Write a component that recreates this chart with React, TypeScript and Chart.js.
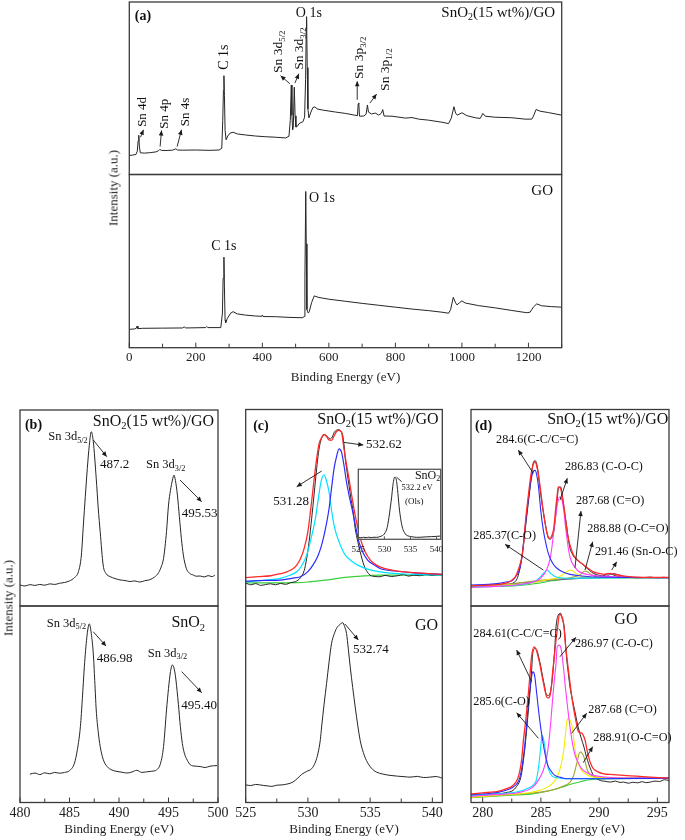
import React, { useEffect, useRef } from "react";
import { Chart, registerables } from "chart.js";

Chart.register(...registerables);

const SERIF = "'Liberation Serif', 'Times New Roman', serif";
type P = [number, number];

// ---------------- tick labels ----------------
const surveyMajor = [0, 200, 400, 600, 800, 1000, 1200];
const surveyMinor = [100, 300, 500, 700, 900, 1100, 1300];
const snMajor = [480, 485, 490, 495, 500];
const snMinor = [482.5, 487.5, 492.5, 497.5];
const oMajor = [525, 530, 535, 540];
const oMinor = [527.5, 532.5, 537.5];
const cMajor = [280, 285, 290, 295];
const cMinor = [282.5, 287.5, 292.5];

// ---------------- (a) survey spectra ----------------
const surveySnO2GO: P[] = [
  [0, 11.0], [10, 11.3], [20, 11.6], [24, 13.5], [26.5, 19.5], [28.5, 22.7], [30.5, 16], [33, 12.6], [45, 12.4], [60, 12.6],
  [80, 13.1], [88, 13.8], [92, 14.6], [96, 14.0], [110, 13.9], [130, 14.1], [140, 14.9], [145, 14.2], [160, 14.1], [200, 14.2],
  [240, 14.0], [270, 14.2], [278, 15.2], [281, 31.4], [283, 48.8], [284.5, 57.3], [286, 45.9], [288, 25.6], [291, 20.1], [296, 22.3],
  [303, 24.0], [312, 24.5], [325, 23.5], [350, 22.9], [380, 22.3], [410, 21.9], [440, 21.6], [470, 21.2], [480, 22.2], [484, 31.4],
  [487, 51.9], [489, 34.3], [491, 25.8], [493, 27.3], [496, 50.6], [498.5, 34], [501, 27.5], [505, 27.9], [510, 29.4], [516, 30.1],
  [522, 30.6], [527, 33.2], [530, 55], [532, 84], [533, 91.5], [535, 62], [537, 38], [540, 32.8], [546, 36.2], [552, 38.8],
  [558, 39.2], [565, 38.0], [580, 37.4], [600, 36.8], [620, 36.2], [650, 35.4], [675, 34.5], [686, 34.1], [688, 40.8], [690, 41.5],
  [692, 33.8], [705, 33.9], [712, 35.0], [716, 40.3], [719, 36.2], [728, 35.1], [740, 35.6], [750, 34.4], [758, 35.6], [762, 37.6],
  [766, 33.9], [790, 33.8], [830, 32.7], [850, 33.0], [870, 32.1], [900, 31.5], [940, 30.3], [960, 29.5], [968, 32.7], [976, 39.3],
  [981, 35.6], [986, 34.4], [1000, 35.8], [1015, 34.1], [1040, 32.9], [1055, 32.5], [1063, 35.4], [1070, 33.8], [1100, 33.2], [1150, 32.9],
  [1190, 32.1], [1210, 32.1], [1215, 33.8], [1223, 37.7], [1235, 36.7], [1260, 35.9], [1300, 34.4],
];
const surveyGO: P[] = [
  [0, 10.6], [15, 10.8], [21, 11.2], [23.5, 12.5], [26, 11.0], [40, 11.2], [100, 11.3], [160, 11.4], [165, 12.0], [170, 11.4],
  [230, 11.6], [233, 12.2], [236, 11.6], [275, 11.6], [280, 20], [282, 40], [284.5, 52.3], [286, 35], [288, 16], [290, 14.5],
  [295, 17], [305, 20], [312, 20.8], [325, 19.5], [350, 18.8], [380, 18.3], [398, 18.1], [400, 18.9], [402, 18.0], [440, 17.9],
  [480, 17.5], [520, 17.3], [526, 18], [528, 40], [530.5, 90.2], [532, 60], [534, 22], [538, 20], [541, 20.8], [548, 26],
  [556, 29.9], [570, 29], [600, 28], [650, 26.8], [700, 25.6], [750, 24.5], [800, 23.4], [850, 22.3], [900, 21.4], [940, 20.5],
  [960, 19.9], [966, 22], [974, 29.1], [980, 26.3], [985, 24.7], [993, 26], [1000, 27], [1010, 25.8], [1050, 24.3], [1100, 23],
  [1150, 21.5], [1195, 20.2], [1205, 20.5], [1215, 23.5], [1225, 25.3], [1240, 24.2], [1270, 23.7], [1300, 23.4],
];

// ---------------- (b) Sn 3d ----------------
const sn3dSnO2GO: P[] = [
  [480.0, 10.7], [480.5, 10.2], [481.0, 10.9], [481.5, 10.5], [482.0, 11.0], [482.5, 10.6], [483.0, 11.3], [483.5, 11.0], [484.0, 11.6], [484.5, 12.0],
  [485.0, 12.8], [485.5, 14.5], [485.9, 17.5], [486.2, 26], [486.4, 41.3], [486.6, 56], [486.8, 70.2], [487.0, 82], [487.2, 88.9], [487.4, 84],
  [487.7, 65.1], [487.9, 50], [488.1, 37.9], [488.4, 20.9], [488.7, 16.5], [489.1, 15.0], [489.6, 14.0], [490.1, 13.3], [490.6, 13.0], [491.1, 12.5],
  [491.6, 12.8], [492.1, 12.2], [492.6, 12.9], [493.1, 13.4], [493.6, 14.8], [494.0, 17.0], [494.3, 20.5], [494.5, 24.3], [494.8, 38], [495.0, 51.5],
  [495.2, 59], [495.4, 64.3], [495.55, 66.8], [495.7, 64], [495.9, 56.6], [496.1, 45.5], [496.3, 34.5], [496.5, 26], [496.8, 19.2], [497.1, 16.8],
  [497.5, 15.8], [497.8, 15.2], [498.2, 15.3], [498.6, 14.8], [499.0, 15.5], [499.4, 15.0], [499.7, 15.8],
];
const sn3dSnO2: P[] = [
  [481.0, 14.4], [481.5, 15.0], [482.0, 14.2], [482.5, 15.1], [483.0, 14.6], [483.5, 15.3], [484.0, 14.9], [484.5, 15.3], [485.0, 16.2], [485.5, 20],
  [485.8, 27], [486.1, 38.6], [486.3, 53], [486.5, 69.1], [486.75, 84], [487.0, 90.9], [487.2, 86], [487.4, 76], [487.55, 62], [487.7, 47.1],
  [487.9, 36], [488.1, 28.5], [488.4, 22], [488.8, 18.3], [489.3, 16.5], [489.8, 15.8], [490.3, 15.4], [490.8, 15.0], [491.3, 15.5], [491.8, 16.4],
  [492.3, 15.3], [492.8, 15.6], [493.3, 15.9], [493.8, 16.6], [494.2, 20], [494.5, 28.5], [494.8, 47.1], [495.0, 58], [495.2, 66.6], [495.4, 70],
  [495.6, 67.5], [495.75, 62.4], [496.0, 50], [496.2, 38.6], [496.4, 30], [496.6, 25.1], [496.9, 21.5], [497.2, 19.2], [497.7, 18.5], [498.2, 18.3],
  [498.7, 17.8], [499.2, 18.5], [499.9, 18.8],
];

// ---------------- (c) O 1s ----------------
const o1sData: P[] = [
  [525.0, 11.7], [525.4, 10.8], [525.8, 11.4], [526.2, 10.5], [526.6, 10.9], [527.0, 11.3], [527.4, 10.8], [527.8, 11.5], [528.2, 11.0], [528.6, 11.9],
  [529.0, 12.4], [529.4, 14.4], [529.7, 18], [529.9, 24.2], [530.1, 33], [530.3, 44.5], [530.5, 57], [530.7, 69.9], [530.85, 78], [531.0, 83.4],
  [531.2, 86.5], [531.4, 87.1], [531.6, 86], [531.8, 85.1], [532.0, 86.5], [532.1, 88.2], [532.3, 89.5], [532.5, 89.7], [532.7, 88.5], [532.8, 86.8],
  [532.9, 82], [533.0, 75], [533.15, 68], [533.3, 61.4], [533.45, 55], [533.6, 49.6], [533.8, 39.4], [534.0, 33], [534.2, 27.6], [534.5, 20.8],
  [534.75, 17.5], [535.0, 15.7], [535.4, 15.0], [535.8, 14.9], [536.2, 15.6], [536.7, 15.0], [537.2, 15.4], [537.7, 16.0], [538.1, 15.2], [538.5, 15.7],
  [539.0, 15.4], [539.5, 16.1], [540.0, 15.5], [540.4, 15.9], [540.8, 15.7],
];
const o1sEnvelope: P[] = [
  [525.0, 14.4], [526.0, 14.9], [527.0, 15.4], [527.7, 16.3], [528.3, 17.4], [528.8, 19], [529.1, 20.8], [529.4, 24], [529.7, 29.3], [530.0, 38],
  [530.2, 47.9], [530.4, 59], [530.6, 69.9], [530.75, 77], [530.9, 82.6], [531.1, 85.7], [531.3, 87.3], [531.5, 86.2], [531.7, 84.5], [531.9, 84.3],
  [532.1, 86.5], [532.3, 88.8], [532.5, 89.4], [532.7, 88.4], [532.9, 80], [533.1, 72], [533.3, 64.8], [533.5, 57], [533.7, 49.6], [533.9, 43],
  [534.1, 37.7], [534.3, 32.5], [534.6, 27.6], [535.0, 23.5], [535.5, 20.8], [536.2, 19], [537.2, 17.8], [538.5, 17], [539.7, 16.5], [540.8, 16.1],
];
const o1s5313: P[] = [
  [525.0, 12.3], [526.5, 13.1], [527.8, 14.1], [528.5, 15.5], [529.1, 17.4], [529.5, 20.5], [529.9, 25.9], [530.2, 33], [530.6, 44.5], [530.8, 53],
  [531.0, 61.4], [531.15, 65.5], [531.3, 66.8], [531.45, 64.5], [531.7, 58], [531.85, 51], [532.0, 44.5], [532.2, 38.5], [532.4, 34.4], [532.7, 29.5],
  [533.0, 25.9], [533.5, 22.9], [534.0, 20.8], [534.8, 18.8], [535.8, 17.4], [537.5, 16.4], [539.0, 16], [540.8, 15.7],
];
const o1s5326: P[] = [
  [525.0, 12.7], [526.5, 13.0], [527.8, 13.2], [528.7, 14.1], [529.4, 14.9], [530.0, 17.5], [530.4, 20.8], [530.8, 25.5], [531.1, 31], [531.4, 39],
  [531.7, 49.6], [531.9, 60], [532.1, 69.9], [532.3, 76], [532.5, 80], [532.7, 78.3], [532.9, 71.5], [533.1, 63.1], [533.35, 55], [533.6, 47.9],
  [533.85, 40], [534.1, 32.6], [534.4, 27.5], [534.8, 23.4], [535.3, 21], [535.8, 19.1], [537.0, 17.8], [538.5, 16.9], [540.8, 16.1],
];
const o1sBaseline: P[] = [
  [525.0, 11.8], [527.0, 11.8], [529.1, 11.9], [530.0, 12.2], [530.7, 12.7], [531.6, 13.3], [532.4, 14.1], [533.2, 14.7], [534.0, 15.1], [535.0, 15.5],
  [535.8, 15.7], [540.8, 15.7],
];
const o1sSnO2Inset: P[] = [
  [525.0, 2.6], [525.5, 2.2], [526.0, 2.9], [526.5, 2.4], [527.0, 3.0], [527.5, 2.5], [528.0, 2.9], [528.55, 2.8], [529.0, 3.5], [529.4, 4.5],
  [529.8, 6.1], [530.1, 9], [530.4, 13.2], [530.65, 21], [530.9, 32.2], [531.15, 46], [531.4, 60.6], [531.6, 75], [531.75, 83], [532.0, 89],
  [532.15, 88.5], [532.3, 84.4], [532.45, 76], [532.6, 65.4], [532.75, 53], [532.9, 41.7], [533.2, 26], [533.5, 15.6], [533.85, 9.5], [534.2, 6.1],
  [534.8, 4.3], [535.5, 3.4], [536.2, 2.8], [537.0, 3.0], [538.0, 3.5], [539.0, 3.8], [540.0, 4.2], [540.8, 4.7],
];
const o1sGO: P[] = [
  [525.0, 9.0], [525.4, 8.6], [525.8, 9.2], [526.4, 8.7], [526.8, 8.4], [527.1, 8.2], [527.5, 8.8], [528.0, 9.0], [528.4, 9.5], [528.8, 10.4],
  [529.2, 12.5], [529.5, 14.3], [529.9, 15.8], [530.3, 17.2], [530.6, 20.5], [530.8, 24.8], [531.0, 32], [531.1, 38.4], [531.3, 50], [531.5, 60.6],
  [531.7, 71.5], [531.9, 81], [532.1, 85.5], [532.3, 88.6], [532.55, 90.5], [532.8, 91.5], [532.95, 89.5], [533.1, 86.1], [533.25, 78], [533.4, 69],
  [533.6, 58.5], [533.8, 48.6], [534.0, 39.5], [534.2, 31.6], [534.45, 25.5], [534.7, 21.4], [535.1, 17.5], [535.5, 15.5], [536.0, 14.5], [536.6, 13.8],
  [537.2, 13.4], [537.8, 13.1], [538.2, 12.9], [538.8, 13.3], [539.3, 12.7], [539.8, 12.9], [540.3, 13.2], [540.8, 12.4],
];

// ---------------- (d) C 1s, SnO2(15 wt%)/GO ----------------
const c1sData: P[] = [
  [279.0, 9.8], [279.8, 10.0], [280.6, 9.9], [281.4, 10.2], [282.0, 10.6], [282.4, 11.2], [282.7, 12.0], [282.9, 13.2], [283.1, 16.5], [283.3, 22.5],
  [283.5, 31], [283.7, 41.1], [283.9, 51.5], [284.1, 61.4], [284.3, 71.6], [284.5, 74], [284.7, 70.7], [284.85, 63.5], [285.0, 56.3], [285.15, 50],
  [285.3, 44.5], [285.45, 39.5], [285.6, 35.2], [285.8, 34.0], [285.95, 35], [286.1, 37.7], [286.2, 42], [286.3, 47.9], [286.4, 54], [286.5, 59.7],
  [286.7, 60.6], [286.8, 58], [286.9, 53.8], [287.05, 47], [287.2, 41.1], [287.35, 34.5], [287.5, 29.3], [287.7, 26.5], [287.9, 24.5], [288.2, 23],
  [288.5, 21.7], [288.9, 19.5], [289.2, 18], [289.5, 16.6], [290.0, 15.6], [290.4, 15.4], [290.8, 16.4], [291.2, 15.9], [291.6, 15.0], [292.1, 14.6],
  [292.6, 14.9], [293.1, 14.3], [293.8, 14.4], [294.4, 14.7], [295.0, 14.3], [295.5, 14.6], [296.0, 14.4],
];
const c1sEnvelope: P[] = [
  [279.0, 10.3], [280.5, 10.6], [281.4, 11.0], [282.0, 11.6], [282.4, 12.7], [282.8, 14.8], [283.0, 17.4], [283.2, 21], [283.4, 25.9], [283.55, 34],
  [283.7, 44.5], [283.9, 55], [284.1, 64.8], [284.25, 70], [284.4, 72.9], [284.5, 73.4], [284.65, 71], [284.8, 66.5], [284.95, 60], [285.1, 52.9],
  [285.3, 44.5], [285.5, 37.7], [285.65, 35], [285.8, 34.4], [285.95, 36], [286.1, 39.4], [286.2, 45], [286.3, 51.3], [286.4, 56.5], [286.5, 60.6],
  [286.7, 59.7], [286.85, 55], [287.0, 49.6], [287.15, 42.5], [287.3, 36], [287.55, 30], [287.8, 25.9], [288.05, 24], [288.3, 22.5], [288.6, 21.2],
  [288.9, 19.9], [289.2, 18.5], [289.5, 17.4], [290.0, 16.6], [290.4, 16.1], [290.9, 16.6], [291.5, 15.9], [292.2, 15.2], [293.2, 14.7], [294.5, 14.6],
  [296.0, 14.6],
];
const c1s2846: P[] = [
  [279.0, 10.7], [280.5, 11.0], [281.4, 11.5], [282.0, 12.2], [282.6, 13.2], [282.9, 15.5], [283.2, 19.1], [283.4, 26], [283.6, 37.7], [283.8, 48],
  [284.0, 58], [284.2, 65.5], [284.35, 68.5], [284.5, 69], [284.65, 66.5], [284.8, 60.5], [285.0, 47.9], [285.2, 39], [285.4, 32.6], [285.6, 27.5],
  [285.8, 24.2], [286.1, 21], [286.4, 19.1], [286.9, 17.3], [287.5, 16.1], [288.3, 15.4], [289.2, 14.9], [291.0, 14.6], [296.0, 14.4],
];
const c1s2854: P[] = [
  [279.0, 9.8], [282.9, 10.7], [284.4, 12.3], [284.9, 14.4], [285.1, 15.8], [285.3, 17.1], [285.5, 18.3], [285.65, 17.8], [285.85, 16.6], [286.1, 15.4],
  [286.4, 14.6], [287.5, 14.1], [290.0, 14.3], [296.0, 14.4],
];
const c1s2868: P[] = [
  [279.0, 9.5], [281.0, 10.0], [282.9, 10.7], [284.0, 11.7], [284.4, 12.3], [284.9, 13.8], [285.2, 15.7], [285.5, 18.5], [285.8, 24.2], [285.95, 30],
  [286.1, 37.7], [286.25, 44.5], [286.4, 51.3], [286.6, 55.5], [286.75, 55], [286.85, 53], [287.0, 47], [287.1, 41.1], [287.25, 34], [287.4, 27.6],
  [287.6, 23], [287.9, 19.9], [288.2, 17.8], [288.6, 16.6], [289.3, 15.7], [290.1, 15.2], [292.0, 14.7], [296.0, 14.4],
];
const c1s2877: P[] = [
  [279.0, 9.8], [282.0, 10.6], [284.4, 12.0], [285.5, 13.3], [286.4, 14.4], [286.9, 16.1], [287.2, 17.4], [287.45, 18.2], [287.6, 18.3], [287.8, 17.6],
  [288.0, 16.6], [288.3, 15.6], [288.7, 14.9], [290.0, 14.5], [296.0, 14.4],
];
const c1s2889: P[] = [
  [279.0, 9.8], [282.0, 11.0], [285.2, 13.2], [287.5, 14.4], [288.1, 15.2], [288.4, 16.1], [288.6, 17.2], [288.8, 17.8], [289.0, 17.4], [289.3, 16.1],
  [289.6, 15.2], [290.0, 14.7], [296.0, 14.4],
];
const c1s2915: P[] = [
  [279.0, 9.8], [283.0, 11.5], [286.0, 13.2], [289.0, 14.3], [290.2, 14.6], [290.7, 15.3], [291.0, 16.2], [291.3, 16.5], [291.6, 16.0], [292.0, 15.1],
  [292.6, 14.6], [296.0, 14.4],
];
const c1sBaseline: P[] = [
  [279.0, 9.6], [281.0, 9.9], [282.9, 10.3], [284.0, 11.0], [284.6, 11.5], [285.2, 12.0], [285.8, 12.7], [286.5, 13.2], [287.2, 13.7], [288.0, 14.0],
  [288.6, 14.2], [290.0, 14.3], [296.0, 14.4],
];

// ---------------- (d) C 1s, GO ----------------
const c1sGOData: P[] = [
  [279.0, 3.6], [279.6, 3.9], [280.3, 3.7], [281.0, 4.2], [281.4, 4.4], [282.0, 5.0], [282.6, 6.1], [282.9, 8], [283.2, 11.2], [283.35, 15],
  [283.5, 21.4], [283.65, 29], [283.8, 38.4], [283.95, 48.5], [284.1, 58.8], [284.2, 67], [284.3, 75.9], [284.5, 78.4], [284.7, 76.7], [284.85, 73],
  [285.0, 69], [285.15, 64], [285.3, 59.7], [285.5, 54.6], [285.65, 54.5], [285.8, 55.8], [285.9, 59], [286.0, 63.9], [286.1, 71], [286.2, 79.2],
  [286.3, 89.4], [286.5, 95.4], [286.7, 96.3], [286.85, 93], [287.0, 89.4], [287.1, 82], [287.2, 74.1], [287.35, 66], [287.5, 58.8], [287.7, 52.5],
  [287.9, 46.9], [288.05, 42.5], [288.2, 38.4], [288.45, 33], [288.7, 28.2], [288.9, 23.5], [289.1, 19.7], [289.3, 16.5], [289.5, 13.8], [289.8, 12.2],
  [290.1, 11.2], [290.5, 10.8], [291.0, 10.4], [291.4, 10.9], [291.8, 10.2], [292.1, 10.4], [292.5, 9.8], [292.9, 10.3], [293.3, 10.0], [293.7, 10.6],
  [294.0, 10.1], [294.4, 10.4], [294.8, 10.9], [295.2, 10.7], [295.6, 11.6], [296.0, 11.2],
];
const c1sGOEnvelope: P[] = [
  [279.0, 4.4], [280.0, 4.9], [281.4, 5.8], [282.0, 6.9], [282.6, 8.7], [283.0, 12], [283.2, 16.3], [283.35, 22], [283.5, 31.6], [283.7, 42],
  [283.9, 53.7], [284.05, 64], [284.2, 74.1], [284.4, 79.2], [284.6, 77.9], [284.75, 74.5], [284.9, 70.8], [285.05, 66], [285.2, 61.4], [285.35, 57],
  [285.5, 53.7], [285.65, 53.2], [285.8, 54.8], [285.9, 59], [286.0, 65.7], [286.15, 74], [286.3, 82.7], [286.45, 90], [286.6, 95.9], [286.75, 95],
  [286.9, 92.9], [287.0, 88], [287.1, 81], [287.25, 73], [287.4, 65.7], [287.55, 58.5], [287.7, 52], [287.85, 46.5], [288.0, 41.8], [288.2, 36.2],
  [288.35, 35.5], [288.5, 35.4], [288.65, 34], [288.8, 31.6], [288.95, 27], [289.1, 23.1], [289.3, 19.5], [289.5, 17.2], [289.9, 15.6], [290.4, 14.6],
  [291.2, 14.2], [292.1, 13.8], [293.2, 13.4], [294.4, 12.9], [296.0, 12.4],
];
const c1sGO2846: P[] = [
  [279.0, 4.1], [280.5, 4.6], [281.4, 5.3], [282.0, 6.2], [282.6, 7.8], [283.0, 10], [283.2, 12.9], [283.4, 19], [283.6, 28.2], [283.75, 38],
  [283.9, 48.6], [284.05, 57], [284.2, 63.9], [284.3, 66.5], [284.4, 66], [284.5, 63.1], [284.65, 55], [284.8, 46.9], [285.0, 37.5], [285.2, 29.9],
  [285.4, 23.5], [285.6, 18.9], [285.9, 15.8], [286.2, 13.8], [286.7, 12.8], [287.2, 12.1], [290.1, 12.1], [296.0, 12.4],
];
const c1sGO2856: P[] = [
  [279.0, 3.6], [281.0, 4.4], [282.9, 5.3], [284.0, 7.5], [284.4, 9.2], [284.6, 11.2], [284.75, 16], [284.9, 23.1], [285.0, 29], [285.1, 34.2],
  [285.2, 33], [285.3, 29.9], [285.45, 23.5], [285.6, 18], [285.8, 15], [286.0, 13.3], [286.5, 12.5], [287.0, 12.1], [296.0, 12.4],
];
const c1sGO2870: P[] = [
  [279.0, 3.1], [281.0, 4.0], [282.9, 4.8], [284.3, 7.8], [284.8, 11.5], [285.2, 16.3], [285.5, 23], [285.7, 31.6], [285.85, 41], [286.0, 52],
  [286.15, 62], [286.3, 70.8], [286.4, 79.2], [286.6, 80.1], [286.7, 79], [286.8, 75.9], [286.95, 68], [287.1, 58.8], [287.3, 48], [287.5, 38.4],
  [287.7, 30.5], [287.9, 24.8], [288.2, 20.3], [288.5, 17.2], [289.0, 15.0], [289.5, 13.8], [290.5, 13.0], [291.5, 12.6], [296.0, 12.4],
];
const c1sGO2877: P[] = [
  [279.0, 2.7], [282.0, 4.0], [284.3, 5.3], [285.8, 8.7], [286.3, 12], [286.6, 16.3], [286.8, 21], [287.0, 28.2], [287.1, 34], [287.2, 40.2],
  [287.3, 42.5], [287.4, 42.7], [287.55, 41], [287.7, 38.4], [287.85, 31], [288.0, 24.8], [288.2, 20], [288.5, 16.3], [289.0, 14.0], [289.5, 12.9],
  [296.0, 12.4],
];
const c1sGO2889: P[] = [
  [279.0, 2.7], [282.0, 3.8], [285.8, 6.1], [287.0, 8.5], [287.5, 10.4], [287.8, 13.5], [288.0, 18], [288.15, 21.5], [288.3, 25.2], [288.45, 25.7],
  [288.6, 24.5], [288.7, 23.1], [288.85, 19.5], [289.0, 16.3], [289.2, 14.5], [289.5, 13.3], [290.0, 12.6], [296.0, 12.4],
];
const c1sGOBaseline: P[] = [
  [279.0, 2.4], [281.0, 3.2], [283.0, 3.9], [284.3, 4.4], [285.3, 5.5], [286.4, 7.0], [287.0, 8.2], [287.7, 9.5], [288.4, 10.6], [289.2, 11.6],
  [290.2, 12.0], [291.5, 12.1], [296.0, 12.4],
];

// ---------------- layout / styling ----------------
const BLACK = "#262626";
const RED = "#ff2a2a";
const BLUE = "#2b2bff";
const CYAN = "#00e1ff";
const GREEN = "#3ccf3c";
const MAGENTA = "#ff3cff";
const YELLOW = "#f2ec00";
const OLIVE = "#a3a235";
const PURPLE = "#7a5fa8";

type Series = { data: P[]; color: string; width?: number; sharp?: boolean };
type Note = { t: string; x: number; y: number; size: number; align?: "left" | "right" | "center"; bold?: boolean; rot?: boolean };
type Arrow = [number, number, number, number, boolean?];
type Axis = { major: number[]; minor: number[]; size: number; pad: number; height: number; title?: string; tick: [number, number] };
type Sub = {
  rect: [number, number, number, number];
  xMin: number; xMax: number;
  series: Series[]; notes: Note[]; arrows: Arrow[];
  axis?: Axis; white?: boolean; frame?: string;
};

const AX_A: Axis = { major: surveyMajor, minor: surveyMinor, size: 13, pad: 2.5, height: 38.1, title: "Binding Energy (eV)", tick: [5, 4] };
const AX_B: Axis = { major: snMajor, minor: snMinor, size: 14, pad: 2, height: 35.3, title: "Binding Energy (eV)", tick: [5, 4] };
const AX_C: Axis = { major: oMajor, minor: oMinor, size: 14, pad: 2, height: 35.3, title: "Binding Energy (eV)", tick: [5, 4] };
const AX_D: Axis = { major: cMajor, minor: cMinor, size: 14, pad: 2, height: 35.3, title: "Binding Energy (eV)", tick: [5, 4] };
const AX_IN: Axis = { major: oMajor, minor: [], size: 9, pad: 4.5, height: 14, tick: [3, 0] };

const SUBS: Sub[] = [
  {
    rect: [129.3, 2, 561.7, 174.5], xMin: 0, xMax: 1300,
    series: [{ data: surveySnO2GO, color: BLACK, width: 1, sharp: true }],
    notes: [
      { t: "(a)", x: 16.5, y: 91.6, size: 14, bold: true },
      { t: "SnO_{2}(15 wt%)/GO", x: 1280, y: 93.7, size: 15, align: "right" },
      { t: "Sn 4d", x: 40.6, y: 36.3, size: 13, rot: true },
      { t: "Sn 4p", x: 104.7, y: 35.2, size: 13, rot: true },
      { t: "Sn 4s", x: 170, y: 36.3, size: 13, rot: true },
      { t: "C 1s", x: 284.2, y: 68, size: 14, rot: true },
      { t: "Sn 3d_{5/2}", x: 449.7, y: 71.2, size: 13.5, rot: true },
      { t: "Sn 3d_{3/2}", x: 512.8, y: 73, size: 13.5, rot: true },
      { t: "O 1s", x: 500.8, y: 93.7, size: 14 },
      { t: "Sn 3p_{3/2}", x: 691.2, y: 67.7, size: 13.5, rot: true },
      { t: "Sn 3p_{1/2}", x: 770.6, y: 60.8, size: 13.5, rot: true },
    ],
    arrows: [
      [33.7, 21.6, 42.7, 25.9, true], [92.6, 16.2, 96.9, 25.5, true], [143.8, 16.2, 157, 25.9, true],
      [482.8, 52.6, 454.8, 57.3, true], [497.8, 53, 509.8, 58.4, true], [685.2, 43.3, 685.2, 54, true], [723.4, 41.4, 743.5, 46.6, true],
    ],
  },
  {
    rect: [129.3, 174.5, 561.7, 347.7], xMin: 0, xMax: 1300, axis: AX_A,
    series: [{ data: surveyGO, color: BLACK, width: 1, sharp: true }],
    notes: [
      { t: "GO", x: 1273.8, y: 90.6, size: 15, align: "right" },
      { t: "C 1s", x: 284.2, y: 58.7, size: 14, align: "center" },
      { t: "O 1s", x: 539.9, y: 86.4, size: 14 },
    ],
    arrows: [],
  },
  {
    rect: [20, 410, 218, 606], xMin: 480, xMax: 500,
    series: [{ data: sn3dSnO2GO, color: BLACK, width: 1 }],
    notes: [
      { t: "(b)", x: 480.5, y: 92.3, size: 14, bold: true },
      { t: "SnO_{2}(15 wt%)/GO", x: 499.6, y: 94, size: 16, align: "right" },
      { t: "Sn 3d_{5/2}", x: 482.86, y: 86.4, size: 12.5 },
      { t: "487.2", x: 488.08, y: 72.3, size: 13 },
      { t: "Sn 3d_{3/2}", x: 492.73, y: 71.9, size: 12.5 },
      { t: "495.53", x: 496.33, y: 47.3, size: 13 },
    ],
    arrows: [[487.4, 84.7, 488.76, 76.2, true], [496.16, 64.3, 498.35, 53.2, true]],
  },
  {
    rect: [20, 606, 218, 802.5], xMin: 480, xMax: 500, axis: AX_B,
    series: [{ data: sn3dSnO2, color: BLACK, width: 1 }],
    notes: [
      { t: "Sn 3d_{5/2}", x: 482.7, y: 91.2, size: 12.5 },
      { t: "486.98", x: 487.75, y: 73.4, size: 13 },
      { t: "SnO_{2}", x: 498.7, y: 91.2, size: 16, align: "right" },
      { t: "Sn 3d_{3/2}", x: 492.9, y: 75.9, size: 12.5 },
      { t: "495.40", x: 496.28, y: 49.3, size: 13 },
    ],
    arrows: [[487.4, 86.9, 488.69, 79.6, true], [496.33, 66.6, 498.35, 55.9, true]],
  },
  {
    rect: [245.7, 409.5, 442.3, 606], xMin: 525, xMax: 540.8,
    series: [
      { data: o1sEnvelope, color: RED, width: 1.3 },
      { data: o1s5326, color: BLUE, width: 1.2 },
      { data: o1s5313, color: CYAN, width: 1.2 },
      { data: o1sData, color: BLACK, width: 1 },
      { data: o1sBaseline, color: GREEN, width: 1.2 },
    ],
    notes: [
      { t: "(c)", x: 525.6, y: 91.2, size: 14, bold: true },
      { t: "SnO_{2}(15 wt%)/GO", x: 540.5, y: 94.7, size: 16, align: "right" },
      { t: "532.62", x: 534.67, y: 81.9, size: 13 },
      { t: "531.28", x: 527.22, y: 53.1, size: 13 },
    ],
    arrows: [[532.85, 83.3, 534.45, 81.9, true], [531.11, 68.7, 529.1, 60.7, true]],
  },
  {
    rect: [245.7, 606, 442.3, 802.5], xMin: 525, xMax: 540.8, axis: AX_C,
    series: [{ data: o1sGO, color: BLACK, width: 1 }],
    notes: [
      { t: "GO", x: 540.46, y: 89.8, size: 16, align: "right" },
      { t: "532.74", x: 533.62, y: 78, size: 13 },
    ],
    arrows: [[532.98, 90.8, 534.05, 82.7, true]],
  },
  {
    rect: [471, 409.5, 669, 606], xMin: 279, xMax: 296,
    series: [
      { data: c1sEnvelope, color: RED, width: 1.3 },
      { data: c1s2846, color: BLUE, width: 1.1 },
      { data: c1s2868, color: MAGENTA, width: 1.1 },
      { data: c1s2854, color: CYAN, width: 1.1 },
      { data: c1s2877, color: YELLOW, width: 1.1 },
      { data: c1s2889, color: OLIVE, width: 1.1 },
      { data: c1s2915, color: PURPLE, width: 1.1 },
      { data: c1sData, color: BLACK, width: 1 },
      { data: c1sBaseline, color: GREEN, width: 1.1 },
    ],
    notes: [
      { t: "(d)", x: 279.34, y: 91.2, size: 14, bold: true },
      { t: "SnO_{2}(15 wt%)/GO", x: 295.95, y: 94.7, size: 16, align: "right" },
      { t: "284.6(C-C/C=C)", x: 281.15, y: 84.5, size: 12.2 },
      { t: "286.83 (C-O-C)", x: 287.07, y: 70.9, size: 12.2 },
      { t: "287.68 (C=O)", x: 288.01, y: 53.6, size: 12.2 },
      { t: "288.88 (O-C=O)", x: 288.98, y: 39.2, size: 12.2 },
      { t: "291.46 (Sn-O-C)", x: 289.64, y: 27.6, size: 12.2 },
      { t: "285.37(C-O)", x: 279.2, y: 35.8, size: 12.2 },
    ],
    arrows: [
      [284.35, 67.5, 283.06, 79.4, true], [286.64, 53.9, 287.27, 65, true], [287.93, 19.5, 288.44, 48.3, true],
      [288.79, 18.3, 289.45, 32.7, true], [291.08, 18.3, 291.51, 22.5, true], [285.21, 18.3, 281.92, 31.4, true],
    ],
  },
  {
    rect: [471, 606, 669, 802.5], xMin: 279, xMax: 296, axis: AX_D,
    series: [
      { data: c1sGOEnvelope, color: RED, width: 1.3 },
      { data: c1sGO2846, color: BLUE, width: 1.1 },
      { data: c1sGO2870, color: MAGENTA, width: 1.1 },
      { data: c1sGO2856, color: CYAN, width: 1.1 },
      { data: c1sGO2877, color: YELLOW, width: 1.1 },
      { data: c1sGO2889, color: OLIVE, width: 1.1 },
      { data: c1sGOData, color: BLACK, width: 1 },
      { data: c1sGOBaseline, color: GREEN, width: 1.1 },
    ],
    notes: [
      { t: "GO", x: 292.3, y: 92.9, size: 16, align: "center" },
      { t: "284.61(C-C/C=C)", x: 279.2, y: 86.1, size: 12.2 },
      { t: "286.97 (C-O-C)", x: 287.93, y: 81, size: 12.2 },
      { t: "285.6(C-O)", x: 279.2, y: 51.3, size: 12.2 },
      { t: "287.68 (C=O)", x: 289.07, y: 47.1, size: 12.2 },
      { t: "288.91(O-C=O)", x: 289.5, y: 32.7, size: 12.2 },
    ],
    arrows: [
      [284.21, 61.5, 282.92, 77.6, true], [286.64, 74.2, 288.01, 84.1, true], [284.78, 32.7, 282.92, 45.7, true],
      [287.64, 35.2, 288.93, 45.4, true], [288.64, 20.3, 289.45, 28.4, true],
    ],
  },
  {
    rect: [358.3, 469.3, 440.7, 539.3], xMin: 525, xMax: 540.8, axis: AX_IN, white: true, frame: "#555",
    series: [{ data: o1sSnO2Inset, color: BLACK, width: 1 }],
    notes: [
      { t: "SnO_{2}", x: 540.7, y: 90.9, size: 12, align: "right" },
      { t: "532.2 eV", x: 533.3, y: 73.7, size: 8.5 },
      { t: "(Ols)", x: 533.95, y: 53.7, size: 9 },
    ],
    arrows: [[532.36, 88.6, 533.32, 82.3, false]],
  },
];

// ---------------- drawing helpers ----------------
function drawRich(ctx: CanvasRenderingContext2D, text: string, x: number, y: number, size: number, align: string, bold: boolean, rot: boolean) {
  const parts: { s: string; sub: boolean }[] = [];
  const re = /_\{([^}]*)\}/g;
  let last = 0;
  let m: RegExpExecArray | null;
  while ((m = re.exec(text))) {
    if (m.index > last) parts.push({ s: text.slice(last, m.index), sub: false });
    parts.push({ s: m[1], sub: true });
    last = re.lastIndex;
  }
  if (last < text.length) parts.push({ s: text.slice(last), sub: false });
  const w = bold ? "bold " : "";
  const fMain = `${w}${size}px ${SERIF}`;
  const fSub = `${w}${(size * 0.66).toFixed(2)}px ${SERIF}`;
  const widths = parts.map((p) => {
    ctx.font = p.sub ? fSub : fMain;
    return ctx.measureText(p.s).width;
  });
  const total = widths.reduce((a, b) => a + b, 0);
  ctx.save();
  ctx.translate(x, y);
  if (rot) ctx.rotate(-Math.PI / 2);
  const a = rot ? "center" : align;
  let cx = a === "left" ? 0 : a === "right" ? -total : -total / 2;
  ctx.textAlign = "left";
  ctx.textBaseline = "middle";
  parts.forEach((p, i) => {
    ctx.font = p.sub ? fSub : fMain;
    ctx.fillText(p.s, cx, p.sub ? size * 0.3 : 0);
    cx += widths[i];
  });
  ctx.restore();
}

function drawArrow(ctx: CanvasRenderingContext2D, x1: number, y1: number, x2: number, y2: number, head: boolean) {
  ctx.beginPath();
  ctx.moveTo(x1, y1);
  ctx.lineTo(x2, y2);
  ctx.stroke();
  if (!head) return;
  const ang = Math.atan2(y2 - y1, x2 - x1);
  const L = 5;
  const Wd = 2.3;
  ctx.beginPath();
  ctx.moveTo(x2, y2);
  ctx.lineTo(x2 - L * Math.cos(ang) + Wd * Math.sin(ang), y2 - L * Math.sin(ang) - Wd * Math.cos(ang));
  ctx.lineTo(x2 - L * Math.cos(ang) - Wd * Math.sin(ang), y2 - L * Math.sin(ang) + Wd * Math.cos(ang));
  ctx.closePath();
  ctx.fill();
}

const W = 685;
const H = 840;

function makeChart(canvas: HTMLCanvasElement, sub: Sub) {
  const [l, t, r, b] = sub.rect;
  const ax = sub.axis;
  const axisH = ax ? ax.height : 0;
  const deco = {
    id: "deco",
    beforeDatasetsDraw(chart: any) {
      if (!sub.white) return;
      const { left, top, width, height } = chart.chartArea;
      chart.ctx.save();
      chart.ctx.fillStyle = "#ffffff";
      chart.ctx.fillRect(left, top, width, height);
      chart.ctx.restore();
    },
    afterDatasetsDraw(chart: any) {
      const ctx: CanvasRenderingContext2D = chart.ctx;
      const xs = chart.scales.x;
      const ys = chart.scales.y;
      const { left, top, right, bottom } = chart.chartArea;
      ctx.save();
      ctx.strokeStyle = sub.frame || "#3a3a3a";
      ctx.lineWidth = 1.3;
      ctx.strokeRect(left, top, right - left, bottom - top);
      if (ax) {
        ctx.lineWidth = 1;
        ctx.beginPath();
        ax.major.forEach((v) => {
          const px = xs.getPixelForValue(v);
          ctx.moveTo(px, bottom);
          ctx.lineTo(px, bottom - ax.tick[0]);
        });
        ax.minor.forEach((v) => {
          const px = xs.getPixelForValue(v);
          ctx.moveTo(px, bottom);
          ctx.lineTo(px, bottom - ax.tick[1]);
        });
        ctx.stroke();
      }
      ctx.strokeStyle = "#1a1a1a";
      ctx.fillStyle = "#1a1a1a";
      ctx.lineWidth = 0.9;
      sub.arrows.forEach(([x1, y1, x2, y2, h]) => {
        drawArrow(ctx, xs.getPixelForValue(x1), ys.getPixelForValue(y1), xs.getPixelForValue(x2), ys.getPixelForValue(y2), !!h);
      });
      ctx.fillStyle = "#111";
      sub.notes.forEach((n) => {
        drawRich(ctx, n.t, xs.getPixelForValue(n.x), ys.getPixelForValue(n.y), n.size, n.align || "left", !!n.bold, !!n.rot);
      });
      ctx.restore();
    },
  };
  const datasets = sub.series.map((s, i) => ({
    data: s.data.map(([x, y]) => ({ x, y })),
    borderColor: s.color,
    backgroundColor: s.color,
    borderWidth: s.width || 1,
    pointRadius: 0,
    fill: false,
    tension: 0,
    cubicInterpolationMode: s.sharp ? "default" : "monotone",
    order: i,
  }));
  return new Chart(canvas, {
    type: "line",
    data: { datasets } as any,
    options: {
      animation: false,
      responsive: false,
      events: [],
      layout: { padding: { left: l, top: t, right: W - r, bottom: H - b - axisH } },
      plugins: { legend: { display: false }, tooltip: { enabled: false } },
      scales: {
        x: {
          type: "linear",
          min: sub.xMin,
          max: sub.xMax,
          display: !!ax,
          grid: { display: false, drawTicks: false, tickLength: 0 },
          border: { display: false },
          afterBuildTicks: (s: any) => {
            if (!ax) return;
            s.ticks = [...ax.major, ...ax.minor].sort((p, q) => p - q).map((v) => ({ value: v }));
          },
          afterFit: (s: any) => {
            s.height = axisH;
          },
          ticks: {
            autoSkip: false,
            maxRotation: 0,
            minRotation: 0,
            padding: ax ? ax.pad : 0,
            color: "#1e1e1e",
            font: { size: ax ? ax.size : 12, family: SERIF },
            callback: (v: any) => (ax && ax.major.includes(Number(v)) ? String(v) : ""),
          },
          title: {
            display: !!(ax && ax.title),
            text: ax && ax.title ? ax.title : "",
            color: "#1e1e1e",
            font: { size: 13, family: SERIF },
            padding: { top: 0, bottom: 0 },
          },
        },
        y: { type: "linear", min: 0, max: 100, display: false },
      },
    } as any,
    plugins: [deco],
  });
}

export default function App() {
  const refs = useRef<(HTMLCanvasElement | null)[]>([]);
  useEffect(() => {
    Chart.defaults.font.family = SERIF;
    const charts = SUBS.map((s, i) => makeChart(refs.current[i] as HTMLCanvasElement, s));
    return () => charts.forEach((c) => c.destroy());
  }, []);
  const yLabel = (x: number, y: number) => ({
    position: "absolute" as const,
    left: x,
    top: y,
    transform: "translate(-50%, -50%) rotate(-90deg)",
    font: `13px ${SERIF}`,
    color: "#1e1e1e",
    whiteSpace: "nowrap" as const,
    lineHeight: 1,
  });
  return (
    <div style={{ position: "absolute", left: 0, top: 0, width: W, height: H, background: "#fff", overflow: "hidden" }}>
      {SUBS.map((_, i) => (
        <canvas
          key={i}
          ref={(el) => {
            refs.current[i] = el;
          }}
          width={W}
          height={H}
          style={{ position: "absolute", left: 0, top: 0, width: W, height: H }}
        />
      ))}
      <div style={yLabel(112.5, 187.5)}>Intensity (a.u.)</div>
      <div style={yLabel(8, 597.5)}>Intensity (a.u.)</div>
    </div>
  );
}
